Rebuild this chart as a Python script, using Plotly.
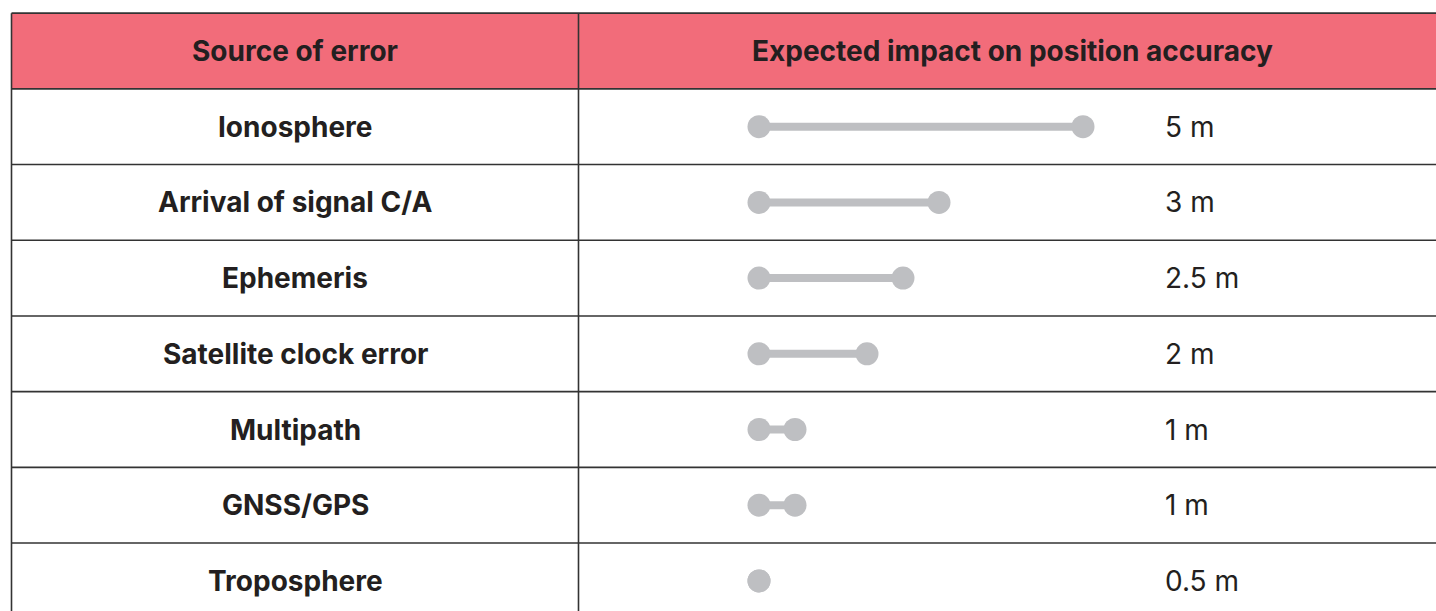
import plotly.graph_objects as go

# ---- data ----
header_left = "Source of error"
header_right = "Expected impact on position accuracy"
sources = ["Ionosphere", "Arrival of signal C/A", "Ephemeris", "Satellite clock error",
           "Multipath", "GNSS/GPS", "Troposphere"]
impact_m = [5, 3, 2.5, 2, 1, 1, 0.5]
baseline_m = 0.5

# ---- layout constants (pixels) ----
W, H = 1436, 611
row_h = 75.7
header_center_px = 51
px_per_m = 72
start_px = 759
left_px = 11.5
div_px = 578.5
label_center_px = 295
right_center_px = 1012
value_left_px = 1163

PINK = "#F26C7A"
GREY = "#BEBFC2"
INK = "#231F20"
LINE = "#333333"
FONT = "Inter"

n = len(sources)
rows = list(range(1, n + 1))

# axis ranges derived from pixel anchors
x0 = baseline_m - start_px / px_per_m
x1 = x0 + W / px_per_m
y_top = -header_center_px / row_h
y_bot = (H - header_center_px) / row_h

fig = go.Figure()

# header fill
fig.add_shape(type="rect", xref="paper", yref="y", x0=left_px / W, x1=1.02,
              y0=-0.5, y1=0.5, fillcolor=PINK, line_width=0, layer="below")

# horizontal rules
for i in range(n + 1):
    fig.add_shape(type="line", xref="paper", yref="y", x0=left_px / W, x1=1.02,
                  y0=i - 0.5, y1=i - 0.5, line=dict(color=LINE, width=1.6))
# vertical rules
for xp in (left_px, div_px):
    fig.add_shape(type="line", xref="paper", yref="y", x0=xp / W, x1=xp / W,
                  y0=-0.5, y1=n + 0.5, line=dict(color=LINE, width=1.6))

# dumbbells
for r, v in zip(rows, impact_m):
    fig.add_trace(go.Scatter(
        x=[baseline_m, v], y=[r, r], mode="lines+markers",
        line=dict(color=GREY, width=8),
        marker=dict(color=GREY, size=23, line=dict(width=0)),
        hoverinfo="skip", showlegend=False))

# header texts
fig.add_annotation(x=label_center_px / W, y=0, xref="paper", yref="y",
                   text=f"<b>{header_left}</b>", showarrow=False,
                   xanchor="center", yanchor="middle",
                   font=dict(family=FONT, size=28, color=INK))
fig.add_annotation(x=right_center_px / W, y=0, xref="paper", yref="y",
                   text=f"<b>{header_right}</b>", showarrow=False,
                   xanchor="center", yanchor="middle",
                   font=dict(family=FONT, size=28, color=INK))

# row labels and values
for r, s, v in zip(rows, sources, impact_m):
    fig.add_annotation(x=label_center_px / W, y=r, xref="paper", yref="y",
                       text=f"<b>{s}</b>", showarrow=False,
                       xanchor="center", yanchor="middle",
                       font=dict(family=FONT, size=28, color=INK))
    fig.add_annotation(x=value_left_px / W, y=r, xref="paper", yref="y",
                       text=f"{v:g} m", showarrow=False,
                       xanchor="left", yanchor="middle",
                       font=dict(family=FONT, size=28, color=INK))

fig.update_layout(
    width=W, height=H, margin=dict(l=0, r=0, t=0, b=0),
    paper_bgcolor="white", plot_bgcolor="white",
    xaxis=dict(range=[x0, x1], visible=False, fixedrange=True),
    yaxis=dict(range=[y_bot, y_top], visible=False, fixedrange=True),
)

fig.write_html("out.html", config={"displayModeBar": False},
               post_script="document.body.style.margin='0';")
